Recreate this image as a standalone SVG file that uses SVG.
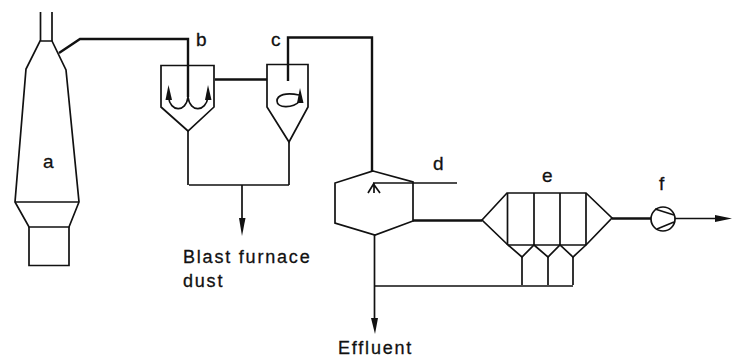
<svg xmlns="http://www.w3.org/2000/svg" width="732" height="359" viewBox="0 0 732 359">
<style>
.l{fill:none;stroke:#111;stroke-width:1.7;stroke-linejoin:miter}
.t{fill:none;stroke:#111;stroke-width:2.4}
.h{fill:#111;stroke:none}
text{font-family:"Liberation Sans",Arial,sans-serif;font-size:19px;fill:#111;stroke:#111;stroke-width:.3}
.w{letter-spacing:1.8px;font-size:18px}
</style>
<rect width="732" height="359" fill="#fff"/>
<g id="connectors">
<path class="t" d="M59 53L80 39H188V97"/>
<path class="l" d="M188 131V185M289 142V185M189 185H289M242 185V220"/>
<path class="h" d="M239 218H245.500L242 236Z"/>
<path class="t" d="M215 79.500H267"/>
<path class="t" d="M288 81V37.500H372V171"/>
<path class="l" d="M373 183H457"/>
<path class="t" d="M413 220.500H482"/>
<path class="l" d="M374.500 235V320M374 286H573"/>
<path class="h" d="M371 318H378L375 334Z"/>
<path class="t" d="M612 218.500H651"/>
<path class="l" d="M675 218.500H718"/>
<path class="h" d="M715 215L732 218.500L715 222Z"/>
</g>
<g id="a">
<path class="l" d="M40.500 12V41M52 12V41"/>
<path class="l" d="M40 41H52L66 70L79 202L69 227H29L15 202L26 69L40 41Z"/>
<path class="l" d="M15 202H79M29 227V265.500H69V227"/>
<text x="43" y="168">a</text>
</g>
<g id="b">
<path class="l" d="M161 65.500H214V107L188 131L161 107Z"/>
<path class="l" d="M168.500 97C170 112 186 113 188 97C190 113 206 112 208 97"/>
<path class="h" d="M168.500 85L172 100H165.500Z"/>
<path class="h" d="M208 85L211.500 100H205Z"/>
<text x="196" y="46">b</text>
</g>
<g id="c">
<path class="l" d="M267 64.500H308V107L289 142L267 107Z"/>
<path class="l" d="M299 95C286 92 277 95 277 101C277 108 292 109 300 101"/>
<path class="h" d="M300 88L303.500 103H297Z"/>
<text x="271" y="46">c</text>
</g>
<g id="d">
<path class="l" d="M373 171L413 182V221L375 235L335 223V183Z"/>
<path class="l" d="M374 183V193M368 193L373.500 184L380 193"/>
<text x="433" y="170">d</text>
</g>
<g id="e">
<path class="l" d="M482 220L507 193H586L612 218L586 245H508Z"/>
<path class="l" d="M507.500 193V245M534 193V245M560 193V245M586 193V245"/>
<path class="l" d="M508 245L522 257L534 245L548 257L560 245L573 257L586 245"/>
<path class="l" d="M522 257V285M548 257V285M573 257V285"/>
<text x="542" y="182">e</text>
</g>
<g id="f">
<circle class="l" cx="663" cy="219" r="12"/>
<path class="l" d="M655 209L674 215M657 229L674 222"/>
<text x="659" y="190">f</text>
</g>
<g id="labels">
<text class="w" x="183" y="263">Blast furnace</text>
<text class="w" x="183" y="287">dust</text>
<text class="w" x="338" y="354">Effluent</text>
</g>
</svg>
